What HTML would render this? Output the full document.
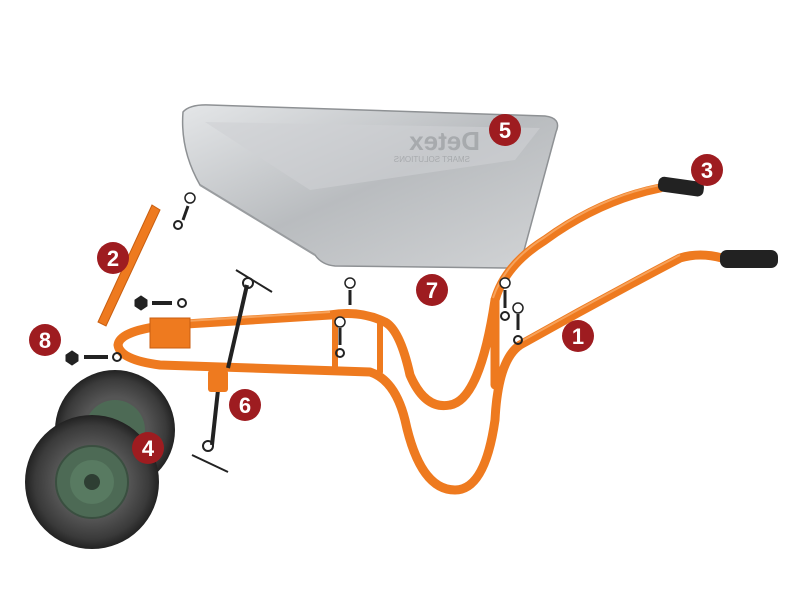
<!DOCTYPE html>
<html><head><meta charset="utf-8"><style>
html,body{margin:0;padding:0;background:#fff;width:800px;height:600px;overflow:hidden}
text{font-family:"Liberation Sans",sans-serif}
</style></head><body>
<svg width="800" height="600" viewBox="0 0 800 600" xmlns="http://www.w3.org/2000/svg">
<defs>
<linearGradient id="tray" x1="0" y1="0" x2="1" y2="1">
<stop offset="0" stop-color="#e4e6e8"/><stop offset="0.5" stop-color="#b9bcbf"/><stop offset="1" stop-color="#d2d4d6"/>
</linearGradient>
<radialGradient id="tire" cx="0.5" cy="0.5" r="0.5">
<stop offset="0.55" stop-color="#555"/><stop offset="0.85" stop-color="#3a3a3a"/><stop offset="1" stop-color="#222"/>
</radialGradient>
</defs>
<!-- tray -->
<path d="M183,112 Q190,104 210,105 L545,116 Q562,118 556,132 L522,258 Q518,268 505,268 L335,266 Q322,265 315,255 L200,185 Q180,150 183,112 Z" fill="url(#tray)" stroke="#8e9194" stroke-width="1.5"/>
<path d="M205,122 L540,128 L515,160 L310,190 Z" fill="#cfd1d3" opacity="0.6"/>
<path d="M200,185 L315,255" stroke="#9a9da0" stroke-width="2"/>
<text x="0" y="0" transform="translate(480,150) scale(-1,1)" font-size="26" font-weight="bold" fill="#a7aaad">Detex</text>
<text x="0" y="0" transform="translate(470,162) scale(-1,1)" font-size="8" fill="#a7aaad">SMART SOLUTIONS</text>
<!-- frame tubes -->
<g fill="none" stroke="#ee7a1f" stroke-width="9" stroke-linecap="round" stroke-linejoin="round">
<path d="M660,188 Q600,200 545,240 Q505,265 495,300 Q480,400 450,405 Q425,410 410,375 Q400,330 385,322 Q360,310 330,315 L170,325 Q120,330 118,345 Q120,360 160,365 L370,372 Q395,380 405,420 Q420,490 455,490 Q485,490 495,420 Q498,360 520,345 Q600,300 680,258 Q700,252 722,258"/>
<path d="M495,300 L495,385" />
<path d="M335,318 L335,370" stroke-width="6"/>
<path d="M380,322 L380,372" stroke-width="6"/>
</g>
<g fill="none" stroke="#f7a25a" stroke-width="2">
<path d="M660,185 Q600,197 545,237 Q505,262 493,298"/>
<path d="M680,255 Q600,297 520,342"/>
<path d="M170,322 L330,312"/>
</g>
<!-- leg bracket 2 -->
<path d="M152,205 L160,210 L106,326 L98,322 Z" fill="#ee7a1f" stroke="#c85e10"/>
<rect x="150" y="318" width="40" height="30" fill="#ee7a1f" stroke="#c85e10"/>
<!-- grips -->
<rect x="658" y="179" width="46" height="15" rx="6" fill="#222" transform="rotate(8 680 186)"/>
<rect x="720" y="250" width="58" height="18" rx="7" fill="#222"/>
<!-- axle -->
<line x1="247" y1="285" x2="228" y2="368" stroke="#222" stroke-width="4"/>
<line x1="218" y1="390" x2="212" y2="445" stroke="#222" stroke-width="4"/>
<circle cx="248" cy="283" r="5" fill="none" stroke="#222" stroke-width="2"/>
<circle cx="208" cy="446" r="5" fill="none" stroke="#222" stroke-width="2"/>
<line x1="236" y1="270" x2="272" y2="292" stroke="#222" stroke-width="2"/>
<line x1="192" y1="455" x2="228" y2="472" stroke="#222" stroke-width="2"/>
<rect x="208" y="370" width="20" height="22" fill="#ee7a1f" rx="3"/>
<!-- bolts -->
<g fill="#222" stroke="#222">
<circle cx="178" cy="225" r="4" fill="none" stroke-width="2"/><line x1="183" y1="220" x2="188" y2="206" stroke-width="3"/><circle cx="190" cy="198" r="5" fill="#fff" stroke-width="1.5"/>
<circle cx="350" cy="283" r="5" fill="#fff" stroke-width="1.5"/><line x1="350" y1="290" x2="350" y2="305" stroke-width="3"/>
<circle cx="340" cy="322" r="5" fill="#fff" stroke-width="1.5"/><line x1="340" y1="328" x2="340" y2="345" stroke-width="3"/><circle cx="340" cy="353" r="4" fill="none" stroke-width="2"/>
<circle cx="505" cy="283" r="5" fill="#fff" stroke-width="1.5"/><line x1="505" y1="290" x2="505" y2="308" stroke-width="3"/><circle cx="505" cy="316" r="4" fill="none" stroke-width="2"/>
<circle cx="518" cy="308" r="5" fill="#fff" stroke-width="1.5"/><line x1="518" y1="314" x2="518" y2="330" stroke-width="3"/><circle cx="518" cy="340" r="4" fill="none" stroke-width="2"/>
<polygon points="135,300 141,296 147,300 147,306 141,310 135,306"/><line x1="152" y1="303" x2="172" y2="303" stroke-width="4"/><circle cx="182" cy="303" r="4" fill="none" stroke-width="2"/>
<polygon points="66,355 72,351 78,355 78,361 72,365 66,361"/><line x1="84" y1="357" x2="108" y2="357" stroke-width="4"/><circle cx="117" cy="357" r="4" fill="none" stroke-width="2"/>
</g>
<!-- wheels -->
<g>
<circle cx="115" cy="430" r="60" fill="url(#tire)"/>
<circle cx="115" cy="430" r="30" fill="#4d6a55"/>
<circle cx="115" cy="430" r="8" fill="#2e3e33"/>
<circle cx="92" cy="482" r="67" fill="url(#tire)"/>
<circle cx="92" cy="482" r="36" fill="#4d6a55" stroke="#3a4f40" stroke-width="2"/>
<circle cx="92" cy="482" r="22" fill="#587a61"/>
<circle cx="92" cy="482" r="8" fill="#2e3e33"/>
</g>
<!-- badges -->
<g font-size="22" font-weight="bold" fill="#fff" text-anchor="middle">
<circle cx="578" cy="336" r="16" fill="#9e1c20"/><text x="578" y="344">1</text>
<circle cx="113" cy="258" r="16" fill="#9e1c20"/><text x="113" y="266">2</text>
<circle cx="707" cy="170" r="16" fill="#9e1c20"/><text x="707" y="178">3</text>
<circle cx="148" cy="448" r="16" fill="#9e1c20"/><text x="148" y="456">4</text>
<circle cx="505" cy="130" r="16" fill="#9e1c20"/><text x="505" y="138">5</text>
<circle cx="245" cy="405" r="16" fill="#9e1c20"/><text x="245" y="413">6</text>
<circle cx="432" cy="290" r="16" fill="#9e1c20"/><text x="432" y="298">7</text>
<circle cx="45" cy="340" r="16" fill="#9e1c20"/><text x="45" y="348">8</text>
</g>
</svg>
</body></html>
